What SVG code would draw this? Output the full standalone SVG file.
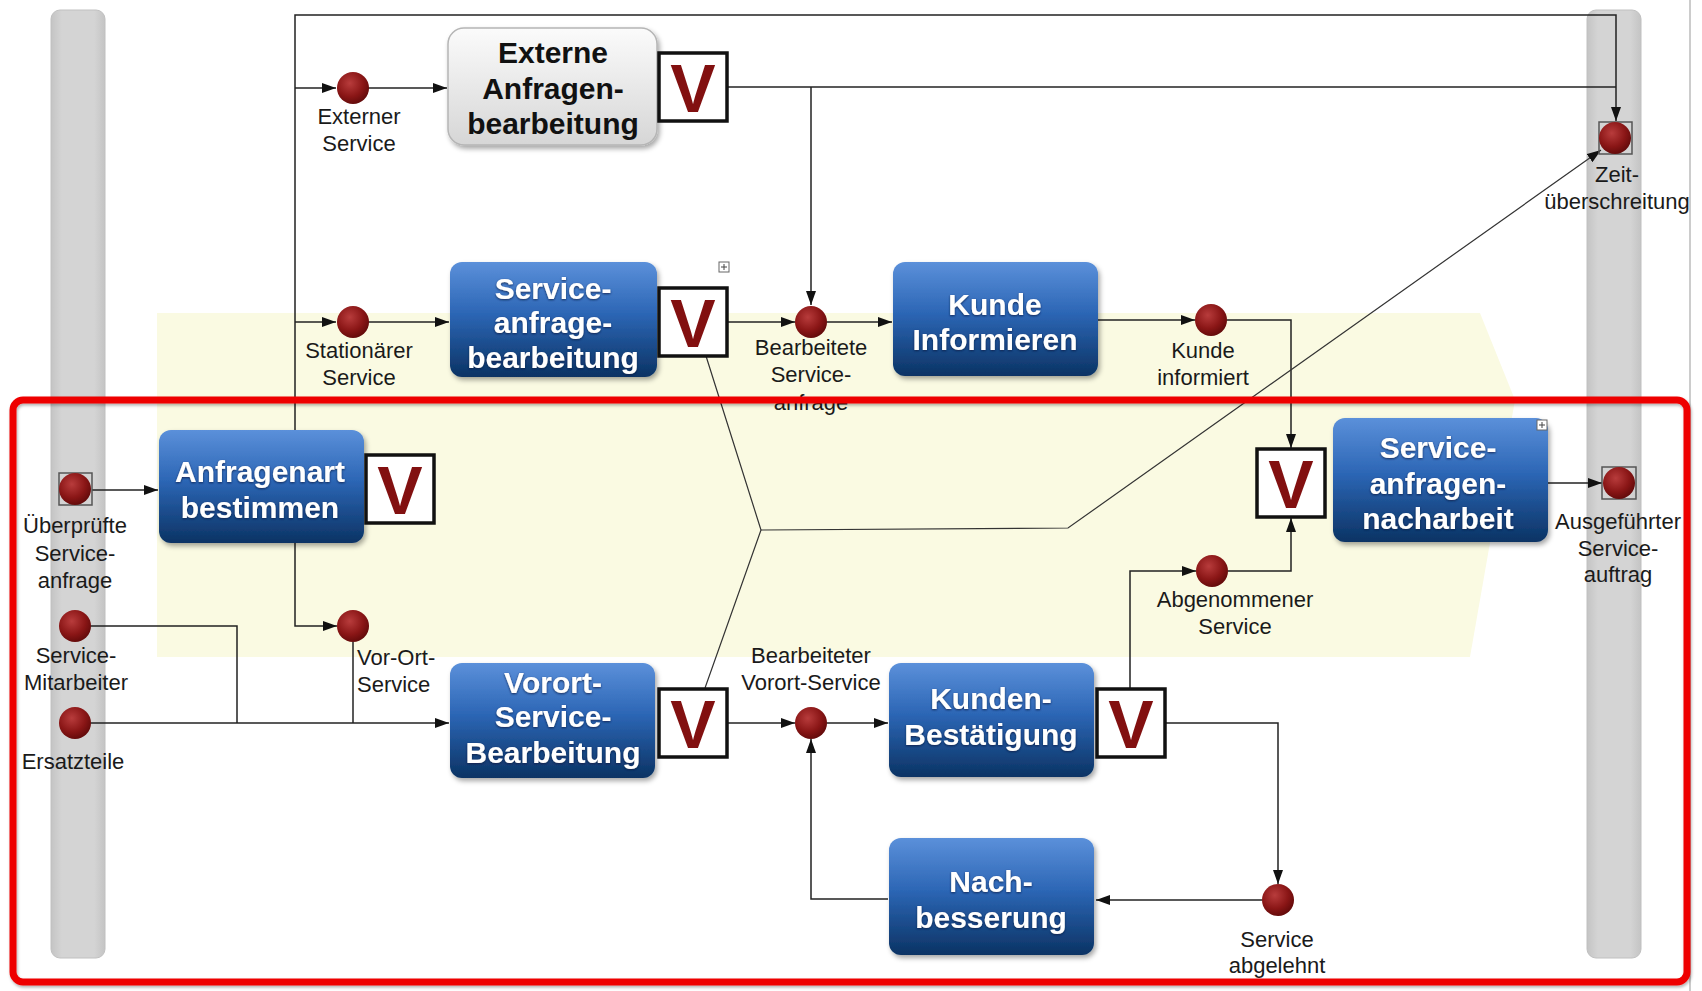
<svg xmlns="http://www.w3.org/2000/svg" width="1702" height="991" viewBox="0 0 1702 991">
<defs>
<linearGradient id="blue" x1="0" y1="0" x2="0" y2="1">
<stop offset="0" stop-color="#5b90da"/>
<stop offset="0.45" stop-color="#2c66b5"/>
<stop offset="1" stop-color="#0b3364"/>
</linearGradient>
<linearGradient id="grey" x1="0" y1="0" x2="0" y2="1">
<stop offset="0" stop-color="#fbfbfb"/>
<stop offset="1" stop-color="#d6d6d6"/>
</linearGradient>
<linearGradient id="bar" x1="0" y1="0" x2="1" y2="0">
<stop offset="0" stop-color="#c4c4c4"/>
<stop offset="0.2" stop-color="#d4d4d4"/>
<stop offset="0.8" stop-color="#d4d4d4"/>
<stop offset="1" stop-color="#c4c4c4"/>
</linearGradient>
<radialGradient id="ball" cx="0.4" cy="0.35" r="0.7">
<stop offset="0" stop-color="#b83c3c"/>
<stop offset="0.6" stop-color="#8a1616"/>
<stop offset="1" stop-color="#5e0909"/>
</radialGradient>
<filter id="sh" x="-10%" y="-10%" width="125%" height="130%">
<feDropShadow dx="2" dy="3" stdDeviation="2.5" flood-color="#000" flood-opacity="0.35"/>
</filter>
<filter id="tsh" x="-10%" y="-20%" width="120%" height="150%">
<feDropShadow dx="0" dy="1" stdDeviation="0.8" flood-color="#0a1e3c" flood-opacity="0.8"/>
</filter>
<filter id="rsh" x="-5%" y="-5%" width="110%" height="110%">
<feDropShadow dx="1" dy="2" stdDeviation="1.5" flood-color="#000" flood-opacity="0.3"/>
</filter>
<marker id="arr" viewBox="0 0 14 10" refX="14" refY="5" markerWidth="14" markerHeight="10" markerUnits="userSpaceOnUse" orient="auto">
<path d="M0,0 L14,5 L0,10 z" fill="#111"/>
</marker>
</defs>
<style>
.con{fill:none;stroke:#222;stroke-width:1.5}
.thin{fill:none;stroke:#333;stroke-width:1.2}
.ev{fill:url(#ball)}
.evbox{fill:none;stroke:#555;stroke-width:1.5}
.lbl{font-family:"Liberation Sans",Arial,sans-serif;font-size:22px;fill:#1a1a1a;text-anchor:middle}
.lbls{font-family:"Liberation Sans",Arial,sans-serif;font-size:22px;fill:#1a1a1a}
.fn{fill:url(#blue);filter:url(#sh)}
.fnt{font-family:"Liberation Sans",Arial,sans-serif;font-size:30px;font-weight:bold;fill:#ffffff;text-anchor:middle;filter:url(#tsh)}
.fng{fill:url(#grey);stroke:#b5b5b5;stroke-width:1.5;filter:url(#sh)}
.fngt{font-family:"Liberation Sans",Arial,sans-serif;font-size:30px;font-weight:bold;fill:#111;text-anchor:middle}
.vb{fill:#fff;stroke:#111;stroke-width:3.5}
.vt{font-family:"Liberation Sans",Arial,sans-serif;font-size:68px;font-weight:bold;fill:#821010;text-anchor:middle}
.plus{fill:#fff;stroke:#666;stroke-width:1}
</style>
<rect x="0" y="0" width="1702" height="991" fill="#ffffff"/>
<polygon points="157,313 1480,313 1515,400 1470,657 157,657" fill="#fafae2"/>
<rect x="51" y="10" width="54" height="948" rx="9" fill="url(#bar)" stroke="#c0c0c0" stroke-width="1"/>
<rect x="1587" y="10" width="54" height="948" rx="9" fill="url(#bar)" stroke="#c0c0c0" stroke-width="1"/>
<line x1="1690" y1="0" x2="1690" y2="991" stroke="#999" stroke-width="1"/>

<g id="connectors">
<path class="con" d="M295,430 V15 H1616 V121" marker-end="url(#arr)"/>
<path class="con" d="M295,88 H336" marker-end="url(#arr)"/>
<path class="con" d="M295,322 H336" marker-end="url(#arr)"/>
<path class="con" d="M368,88 H447" marker-end="url(#arr)"/>
<path class="con" d="M368,322 H449" marker-end="url(#arr)"/>
<path class="con" d="M727,87 H1616"/>
<path class="con" d="M811,87 V305" marker-end="url(#arr)"/>
<path class="con" d="M727,322 H795" marker-end="url(#arr)"/>
<path class="con" d="M827,322 H892" marker-end="url(#arr)"/>
<path class="con" d="M1098,320 H1195" marker-end="url(#arr)"/>
<path class="con" d="M1227,320 H1291 V448" marker-end="url(#arr)"/>
<path class="thin" d="M706,356 L761,530 L705,688"/>
<path class="thin" d="M761,530 L1068,528 L1601,150" marker-end="url(#arr)"/>
<path class="con" d="M92,490 H158" marker-end="url(#arr)"/>
<path class="con" d="M295,543 V626 H337" marker-end="url(#arr)"/>
<path class="con" d="M91,626 H237 V723"/>
<path class="con" d="M91,723 H449" marker-end="url(#arr)"/>
<path class="con" d="M353,642 V723"/>
<path class="con" d="M727,723 H795" marker-end="url(#arr)"/>
<path class="con" d="M827,723 H888" marker-end="url(#arr)"/>
<path class="con" d="M1130,688 V571 H1196" marker-end="url(#arr)"/>
<path class="con" d="M1228,571 H1291 V518" marker-end="url(#arr)"/>
<path class="con" d="M1165,723 H1278 V884" marker-end="url(#arr)"/>
<path class="con" d="M1262,900 H1096" marker-end="url(#arr)"/>
<path class="con" d="M888,899 H811 V739" marker-end="url(#arr)"/>
<path class="con" d="M1548,483 H1602" marker-end="url(#arr)"/>
</g>

<g id="ev-externer">
<circle class="ev" cx="353" cy="88" r="16"/>
<text class="lbl" x="359" y="124">Externer</text>
<text class="lbl" x="359" y="151">Service</text>
</g>
<g id="ev-stationaer">
<circle class="ev" cx="353" cy="322" r="16"/>
<text class="lbl" x="359" y="358">Stationärer</text>
<text class="lbl" x="359" y="385">Service</text>
</g>
<g id="fn-externe">
<rect class="fng" x="448" y="28" width="209" height="117" rx="16"/>
<text class="fngt" x="553" y="63">Externe</text>
<text class="fngt" x="553" y="99">Anfragen-</text>
<text class="fngt" x="553" y="134">bearbeitung</text>
</g>
<g id="v-externe">
<rect class="vb" x="659" y="53" width="68" height="68"/>
<text class="vt" x="693" y="112">V</text>
</g>
<g id="fn-serviceanfrage">
<rect class="fn" x="450" y="262" width="207" height="115" rx="12"/>
<text class="fnt" x="553" y="299">Service-</text>
<text class="fnt" x="553" y="333">anfrage-</text>
<text class="fnt" x="553" y="368">bearbeitung</text>
<rect class="plus" x="719" y="262" width="10" height="10"/>
<path d="M721,267 H727 M724,264 V270" stroke="#444" stroke-width="1"/>
</g>
<g id="v-serviceanfrage">
<rect class="vb" x="659" y="288" width="68" height="68"/>
<text class="vt" x="693" y="347">V</text>
</g>
<g id="ev-bearbeitete">
<circle class="ev" cx="811" cy="322" r="16"/>
<text class="lbl" x="811" y="355">Bearbeitete</text>
<text class="lbl" x="811" y="382">Service-</text>
<text class="lbl" x="811" y="410">anfrage</text>
</g>
<g id="fn-kundeinformieren">
<rect class="fn" x="893" y="262" width="205" height="114" rx="12"/>
<text class="fnt" x="995" y="315">Kunde</text>
<text class="fnt" x="995" y="350">Informieren</text>
</g>
<g id="ev-kundeinformiert">
<circle class="ev" cx="1211" cy="320" r="16"/>
<text class="lbl" x="1203" y="358">Kunde</text>
<text class="lbl" x="1203" y="385">informiert</text>
</g>
<g id="ev-zeit">
<rect class="evbox" x="1599" y="122" width="33" height="32"/>
<circle class="ev" cx="1615" cy="138" r="16"/>
<text class="lbl" x="1617" y="182">Zeit-</text>
<text class="lbl" x="1617" y="209">überschreitung</text>
</g>
<g id="ev-ueberpruefte">
<rect class="evbox" x="59" y="473" width="33" height="32"/>
<circle class="ev" cx="75" cy="489" r="16"/>
<text class="lbl" x="75" y="533">Überprüfte</text>
<text class="lbl" x="75" y="561">Service-</text>
<text class="lbl" x="75" y="588">anfrage</text>
</g>
<g id="fn-anfragenart">
<rect class="fn" x="159" y="430" width="205" height="113" rx="12"/>
<text class="fnt" x="260" y="482">Anfragenart</text>
<text class="fnt" x="260" y="518">bestimmen</text>
</g>
<g id="v-anfragenart">
<rect class="vb" x="366" y="455" width="68" height="68"/>
<text class="vt" x="400" y="514">V</text>
</g>
<g id="ev-mitarbeiter">
<circle class="ev" cx="75" cy="626" r="16"/>
<text class="lbl" x="76" y="663">Service-</text>
<text class="lbl" x="76" y="690">Mitarbeiter</text>
</g>
<g id="ev-ersatzteile">
<circle class="ev" cx="75" cy="723" r="16"/>
<text class="lbl" x="73" y="769">Ersatzteile</text>
</g>
<g id="ev-vorort">
<circle class="ev" cx="353" cy="626" r="16"/>
<text class="lbls" x="357" y="665">Vor-Ort-</text>
<text class="lbls" x="357" y="692">Service</text>
</g>
<g id="fn-vorort">
<rect class="fn" x="450" y="663" width="205" height="115" rx="12"/>
<text class="fnt" x="553" y="693">Vorort-</text>
<text class="fnt" x="553" y="727">Service-</text>
<text class="fnt" x="553" y="763">Bearbeitung</text>
</g>
<g id="v-vorort">
<rect class="vb" x="659" y="689" width="68" height="68"/>
<text class="vt" x="693" y="748">V</text>
</g>
<g id="ev-bearbeiteter">
<circle class="ev" cx="811" cy="723" r="16"/>
<text class="lbl" x="811" y="663">Bearbeiteter</text>
<text class="lbl" x="811" y="690">Vorort-Service</text>
</g>
<g id="fn-kundenbestaetigung">
<rect class="fn" x="889" y="663" width="205" height="114" rx="12"/>
<text class="fnt" x="991" y="709">Kunden-</text>
<text class="fnt" x="991" y="745">Bestätigung</text>
</g>
<g id="v-kundenbestaetigung">
<rect class="vb" x="1097" y="689" width="68" height="68"/>
<text class="vt" x="1131" y="748">V</text>
</g>
<g id="ev-abgenommener">
<circle class="ev" cx="1212" cy="571" r="16"/>
<text class="lbl" x="1235" y="607">Abgenommener</text>
<text class="lbl" x="1235" y="634">Service</text>
</g>
<g id="v-nacharbeit">
<rect class="vb" x="1257" y="449" width="68" height="68"/>
<text class="vt" x="1291" y="508">V</text>
</g>
<g id="fn-nacharbeit">
<rect class="fn" x="1333" y="418" width="215" height="124" rx="12"/>
<text class="fnt" x="1438" y="458">Service-</text>
<text class="fnt" x="1438" y="494">anfragen-</text>
<text class="fnt" x="1438" y="529">nacharbeit</text>
<rect class="plus" x="1537" y="420" width="10" height="10"/>
<path d="M1539,425 H1545 M1542,422 V428" stroke="#444" stroke-width="1"/>
</g>
<g id="ev-ausgefuehrter">
<rect class="evbox" x="1602" y="467" width="34" height="32"/>
<circle class="ev" cx="1619" cy="483" r="16"/>
<text class="lbl" x="1618" y="529">Ausgeführter</text>
<text class="lbl" x="1618" y="556">Service-</text>
<text class="lbl" x="1618" y="582">auftrag</text>
</g>
<g id="ev-abgelehnt">
<circle class="ev" cx="1278" cy="900" r="16"/>
<text class="lbl" x="1277" y="947">Service</text>
<text class="lbl" x="1277" y="973">abgelehnt</text>
</g>
<g id="fn-nachbesserung">
<rect class="fn" x="889" y="838" width="205" height="117" rx="12"/>
<text class="fnt" x="991" y="892">Nach-</text>
<text class="fnt" x="991" y="928">besserung</text>
</g>

<rect x="13" y="400" width="1674" height="582" rx="10" fill="none" stroke="#ee0000" stroke-width="7" filter="url(#rsh)"/>
</svg>
